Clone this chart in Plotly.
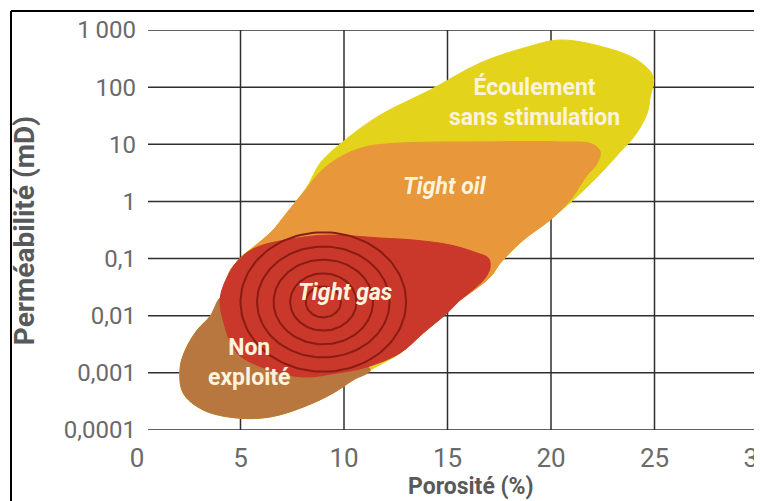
import numpy as np
import plotly.graph_objects as go

# ---------------- data ----------------
# porosity (%) / permeability (mD) outlines of each domain
outer_por = [4.84, 3.20, 2.23, 2.09, 2.38, 2.91, 3.54, 4.02, 4.41, 4.99, 5.61, 6.05, 6.58, 7.16,
             7.74, 8.27, 8.85, 10.06, 11.75, 14.16, 16.58, 18.85, 20.44, 22.52, 24.16, 24.94,
             24.79, 24.65, 24.07, 23.34, 22.23, 21.07, 20.11, 18.66, 17.55, 17.06, 15.61, 13.83,
             12.71, 11.27, 10.44, 9.48, 8.03, 6.43]
outer_perm = [0.000162, 0.000224, 0.000444, 0.00127, 0.00272, 0.00562, 0.00989, 0.0204, 0.0516,
              0.102, 0.159, 0.211, 0.316, 0.578, 1.06, 1.94, 4.7, 11.9, 32.5, 89, 265, 504, 668,
              504, 299, 150, 67, 35.3, 14.5, 7.33, 2.68, 1.06, 0.534, 0.211, 0.0836, 0.0476,
              0.0188, 0.00498, 0.00222, 0.00112, 0.00075, 0.000444, 0.000252, 0.000169]

oil_por = [8.03, 8.85, 9.82, 11.02, 12.71, 16.58, 20.44, 21.99, 22.38, 22.18, 21.75, 20.93, 19.96,
           18.66, 17.55, 17.06, 15.61, 12.71, 7.88, 4.99, 4.41, 5.23, 6.05, 6.58, 7.16, 7.74]
oil_perm = [1.40, 3.27, 5.99, 8.96, 10.5, 11.0, 11.0, 10.1, 7.33, 4.34, 2.9, 1.06, 0.473, 0.211,
            0.0836, 0.0476, 0.0188, 0.00376, 0.00168, 0.00841, 0.0516, 0.1155, 0.211, 0.316,
            0.578, 1.06]

gas_por = [5.81, 7.74, 9.33, 11.75, 13.34, 15.13, 16.43, 16.97, 17.06, 16.82, 16.10, 15.61, 14.99,
           13.83, 12.71, 11.12, 9.67, 8.03, 6.43, 4.84, 4.16, 4.02, 4.41, 4.99]
gas_perm = [0.159, 0.229, 0.258, 0.229, 0.211, 0.173, 0.125, 0.102, 0.0712, 0.0457, 0.026, 0.0188,
            0.01115, 0.00498, 0.00222, 0.00127, 0.000994, 0.000846, 0.00112, 0.00222, 0.00841,
            0.0204, 0.0516, 0.102]

nonexp_por = [4.02, 3.54, 2.91, 2.38, 2.09, 2.23, 3.20, 4.84, 6.43, 8.03, 9.48, 10.44, 11.27,
              9.33, 5.95, 4.26]
nonexp_perm = [0.0204, 0.00989, 0.00562, 0.00272, 0.00127, 0.000444, 0.000224, 0.000162,
               0.000169, 0.000252, 0.000444, 0.00075, 0.00112, 0.00251, 0.00841, 0.0188]

# concentric rings (tight gas "target")
ring_center_por = 9.0
ring_center_perm = 0.0174
ring_radius_por = [4.0, 3.2, 2.4, 1.6, 0.85]
ring_radius_decades = [1.22, 0.97, 0.74, 0.50, 0.27]

# labels
label_text = ["Écoulement<br>sans stimulation", "<i>Tight oil</i>", "<i>Tight gas</i>",
              "Non<br>exploité"]
label_por = [19.19, 14.89, 10.06, 5.42]
label_perm = [55, 1.79, 0.026, 0.00149]

x_ticks = [0, 5, 10, 15, 20, 25, 30]
y_ticks = [0.0001, 0.001, 0.01, 0.1, 1, 10, 100, 1000]
y_tick_text = ["0,0001", "0,001", "0,01", "0,1", "1", "10", "100", "1\u2009000"]

# ---------------- figure ----------------
YELLOW = "#e3d41b"
ORANGE = "#e8973a"
RED = "#c9382a"
BROWN = "#b8773f"
RING = "#8a1c12"
TXT = "#fbf3dc"
GRID = "#2e2e2e"
FONT = "Roboto, Liberation Sans, DejaVu Sans"

fig = go.Figure()

def blob(xs, ys, color, name):
    fig.add_trace(go.Scatter(
        x=xs + xs[:1], y=ys + ys[:1], mode="lines", fill="toself",
        fillcolor=color, line=dict(color=color, width=1, shape="spline", smoothing=1.0),
        hoverinfo="skip", showlegend=False, name=name))

blob(outer_por, outer_perm, YELLOW, "Écoulement sans stimulation")
blob(oil_por, oil_perm, ORANGE, "Tight oil")
blob(nonexp_por, nonexp_perm, BROWN, "Non exploité")
blob(gas_por, gas_perm, RED, "Tight gas")

t = np.linspace(0, 2 * np.pi, 120)
for rx, ry in zip(ring_radius_por, ring_radius_decades):
    fig.add_trace(go.Scatter(
        x=ring_center_por + rx * np.cos(t),
        y=10 ** (np.log10(ring_center_perm) + ry * np.sin(t)),
        mode="lines", line=dict(color=RING, width=2),
        hoverinfo="skip", showlegend=False))

for txt, px, py in zip(label_text, label_por, label_perm):
    fig.add_annotation(x=px, y=np.log10(py), xref="x", yref="y", text="<b>" + txt + "</b>",
                       showarrow=False, font=dict(family=FONT, size=23, color=TXT),
                       align="center")

# grid lines
for v in x_ticks[1:]:
    fig.add_shape(type="line", xref="x", yref="paper", x0=v, x1=v, y0=0, y1=1,
                  line=dict(color=GRID, width=1.5), layer="below")
for v in y_ticks:
    fig.add_shape(type="line", xref="paper", yref="y", x0=0.0177, x1=1, y0=v, y1=v,
                  line=dict(color=GRID, width=1.5), layer="below")

# frame of the picture (left and top)
fig.add_shape(type="line", xref="paper", yref="paper", x0=-0.2029, x1=-0.2029, y0=-0.3, y1=1.0475,
              line=dict(color="black", width=2))
fig.add_shape(type="line", xref="paper", yref="paper", x0=-0.2029, x1=1.2, y0=1.0475, y1=1.0475,
              line=dict(color="black", width=2))

fig.add_annotation(xref="paper", yref="paper", x=0.538, y=-0.14, xanchor="center",
                   yanchor="middle", text="<b>Porosité (%)</b>",
                   showarrow=False, font=dict(family=FONT, size=23, color="#58595b"))
fig.add_annotation(xref="paper", yref="paper", x=-0.18, y=0.4975, xanchor="center",
                   yanchor="middle", text="<b>Perméabilité (mD)</b>", textangle=-90,
                   showarrow=False, font=dict(family=FONT, size=28, color="#58595b"))

fig.update_layout(
    width=754, height=493,
    margin=dict(l=129, r=4, t=22, b=71, autoexpand=False),
    paper_bgcolor="white", plot_bgcolor="white",
    xaxis=dict(range=[0, 30], tickvals=x_ticks, showgrid=False, zeroline=False,
               showline=False, ticks="", ticklabeloverflow="allow", ticklabelstandoff=10,
               automargin=False,
               tickfont=dict(family=FONT, size=26, color="#6a6a6a")),
    yaxis=dict(type="log", range=[-4, 3], tickvals=y_ticks, ticktext=y_tick_text,
               showgrid=False, zeroline=False, showline=False, ticks="",
               ticklabeloverflow="allow", automargin=False,
               tickfont=dict(family=FONT, size=24, color="#6a6a6a")),
)

fig.write_html("out.html")
